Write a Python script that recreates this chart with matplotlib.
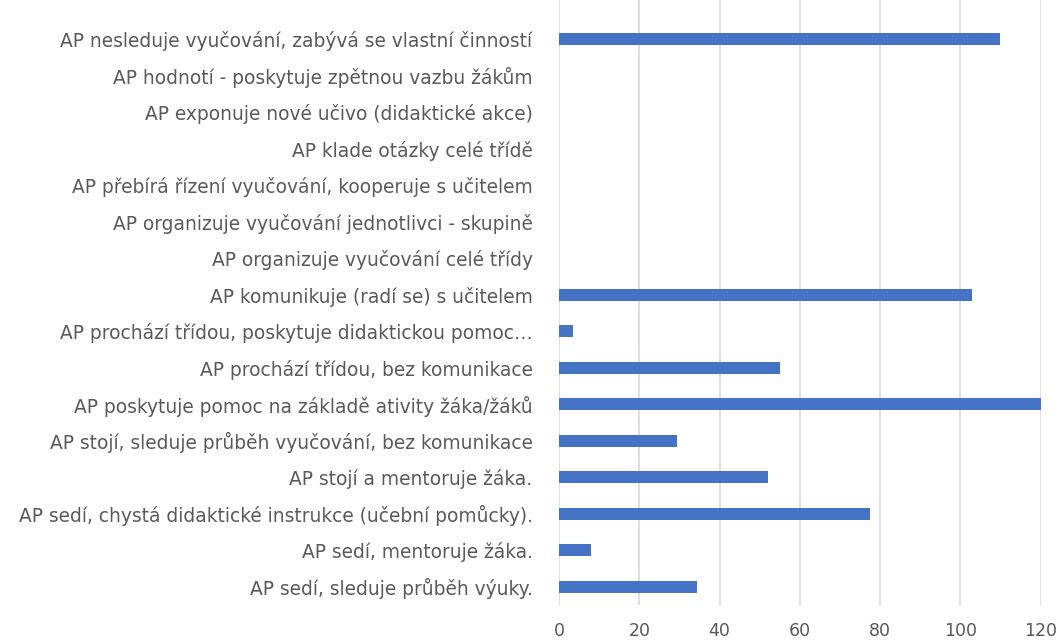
import matplotlib.pyplot as plt

# categories listed bottom to top
categories = [
    "AP sedí, sleduje průběh výuky.",
    "AP sedí, mentoruje žáka.",
    "AP sedí, chystá didaktické instrukce (učební pomůcky).",
    "AP stojí a mentoruje žáka.",
    "AP stojí, sleduje průběh vyučování, bez komunikace",
    "AP poskytuje pomoc na základě ativity žáka/žáků",
    "AP prochází třídou, bez komunikace",
    "AP prochází třídou, poskytuje didaktickou pomoc…",
    "AP komunikuje (radí se) s učitelem",
    "AP organizuje vyučování celé třídy",
    "AP organizuje vyučování jednotlivci - skupině",
    "AP přebírá řízení vyučování, kooperuje s učitelem",
    "AP klade otázky celé třídě",
    "AP exponuje nové učivo (didaktické akce)",
    "AP hodnotí - poskytuje zpětnou vazbu žákům",
    "AP nesleduje vyučování, zabývá se vlastní činností",
]
values = [34.5, 8, 77.5, 52, 29.5, 120, 55, 3.5, 103, 0, 0, 0, 0, 0, 0, 110]
xticks = [0, 20, 40, 60, 80, 100, 120]

plt.rcParams['font.family'] = ['DejaVu Sans']

fig = plt.figure(figsize=(10.59, 6.44), dpi=100)
ax = fig.add_axes([559 / 1059, 39 / 644, (1040.5 - 559) / 1059, 605 / 644])

ypos = range(len(categories))
ax.barh(ypos, values, height=0.33, color='#4472C4', zorder=3)

ax.set_xlim(0, 120)
ax.set_ylim(-0.5, 16.08)
ax.set_xticks(xticks)
ax.set_yticks(list(ypos))
ax.set_yticklabels(categories)
ax.grid(axis='x', color='#d9d9d9', linewidth=1.2, zorder=0)
for s in ax.spines.values():
    s.set_visible(False)
ax.tick_params(axis='y', length=0, pad=19, labelsize=13.4, labelcolor='#595959')
ax.tick_params(axis='x', length=0, pad=12, labelsize=12.5, labelcolor='#595959')

fig.savefig('out.png', dpi=100)
